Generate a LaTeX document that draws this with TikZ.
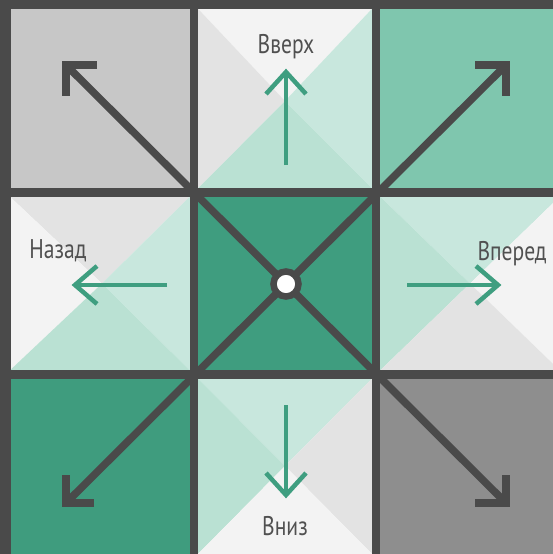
\documentclass[tikz,border=0pt]{standalone}
\usepackage{fontspec}
\setmainfont{PT Sans}
\newfontfamily\labfont[FakeStretch=0.8]{PT Sans}
\definecolor{gridc}{HTML}{4A4A4A}
\definecolor{cTL}{HTML}{C7C7C7}
\definecolor{cTR}{HTML}{7FC6AE}
\definecolor{cBL}{HTML}{3F9C7E}
\definecolor{cBR}{HTML}{8E8E8E}
\definecolor{cC}{HTML}{3F9D7F}
\definecolor{wht}{HTML}{F3F3F3}
\definecolor{lgr}{HTML}{E3E3E3}
\definecolor{mintA}{HTML}{C8E7DD}
\definecolor{mintB}{HTML}{BAE1D3}
\definecolor{garrow}{HTML}{3F9E80}
\definecolor{txt}{HTML}{505050}
\begin{document}
\begin{tikzpicture}[x=1pt,y=-1pt,
  gline/.style={fill=gridc},
  darkarrow/.style={draw=gridc,line width=7.5pt,line join=miter,line cap=butt},
  greenarrow/.style={draw=garrow,line width=4.5pt,line join=miter,line cap=butt},
  lbl/.style={text=txt,font=\labfont\fontsize{27}{27}\selectfont,inner sep=0pt,anchor=base}]
\useasboundingbox (0,0) rectangle (553,554);
% corner cells
\fill[cTL] (0,0) rectangle (194,192.5);
\fill[cTR] (376,0) rectangle (553,192.5);
\fill[cBL] (0,374.5) rectangle (194,554);
\fill[cBR] (376,374.5) rectangle (553,554);
\fill[cC] (194,192.5) rectangle (376,374.5);
% top middle cell
\coordinate (tm) at (285,101);
\fill[wht] (194,4.5) -- (376,4.5) -- (tm) -- cycle;
\fill[lgr] (194,4.5) -- (194,192.5) -- (tm) -- cycle;
\fill[mintA] (376,4.5) -- (376,192.5) -- (tm) -- cycle;
\fill[mintB] (194,192.5) -- (376,192.5) -- (tm) -- cycle;
% left middle cell
\coordinate (lm) at (102,283.5);
\fill[lgr] (5.5,192.5) -- (194,192.5) -- (lm) -- cycle;
\fill[wht] (5.5,192.5) -- (5.5,374.5) -- (lm) -- cycle;
\fill[mintA] (194,192.5) -- (194,374.5) -- (lm) -- cycle;
\fill[mintB] (5.5,374.5) -- (194,374.5) -- (lm) -- cycle;
% right middle cell
\coordinate (rm) at (470,283.5);
\fill[mintA] (376,192.5) -- (564,192.5) -- (rm) -- cycle;
\fill[mintB] (376,192.5) -- (376,374.5) -- (rm) -- cycle;
\fill[wht] (564,192.5) -- (564,374.5) -- (rm) -- cycle;
\fill[lgr] (376,374.5) -- (564,374.5) -- (rm) -- cycle;
% bottom middle cell
\coordinate (bm) at (285,466);
\fill[mintA] (194,374.5) -- (376,374.5) -- (bm) -- cycle;
\fill[mintB] (194,374.5) -- (194,558) -- (bm) -- cycle;
\fill[lgr] (376,374.5) -- (376,558) -- (bm) -- cycle;
\fill[wht] (194,558) -- (376,558) -- (bm) -- cycle;
% grid lines
\fill[gline] (0,0) rectangle (11,554);
\fill[gline] (0,0) rectangle (553,9);
\fill[gline] (190,0) rectangle (198,554);
\fill[gline] (372,0) rectangle (380,554);
\fill[gline] (0,188) rectangle (553,197);
\fill[gline] (0,370) rectangle (553,379);
% diagonal dark arrows
\coordinate (ctr) at (286,284);
\coordinate (tl) at (66,65);
\coordinate (tr) at (506,65);
\coordinate (bl) at (66,503);
\coordinate (br) at (506,503);
\draw[darkarrow] (ctr) -- (tl);
\draw[darkarrow] (ctr) -- (tr);
\draw[darkarrow] (ctr) -- (bl);
\draw[darkarrow] (ctr) -- (br);
\draw[darkarrow] ([xshift=31pt]tl) -- (tl) -- ([yshift=-31pt]tl);
\draw[darkarrow] ([xshift=-31pt]tr) -- (tr) -- ([yshift=-31pt]tr);
\draw[darkarrow] ([xshift=28pt]bl) -- (bl) -- ([yshift=28pt]bl);
\draw[darkarrow] ([xshift=-31pt]br) -- (br) -- ([yshift=28pt]br);
% center circle
\node[circle,fill=white,draw=gridc,line width=6.5pt,minimum size=25pt,inner sep=0pt] (hub) at (ctr) {};
% green arrows
\coordinate (upT) at (286,165); \coordinate (upH) at (286,72);
\coordinate (lfT) at (167,285); \coordinate (lfH) at (75,285);
\coordinate (rtT) at (407,285); \coordinate (rtH) at (498,285);
\coordinate (dnT) at (286,405); \coordinate (dnH) at (286,495);
\draw[greenarrow] (upT) -- (upH);
\draw[greenarrow] ([shift={(-20,22)}]upH) -- (upH) -- ([shift={(20,22)}]upH);
\draw[greenarrow] (lfT) -- (lfH);
\draw[greenarrow] ([shift={(22,-19)}]lfH) -- (lfH) -- ([shift={(22,19)}]lfH);
\draw[greenarrow] (rtT) -- (rtH);
\draw[greenarrow] ([shift={(-22,-19)}]rtH) -- (rtH) -- ([shift={(-22,19)}]rtH);
\draw[greenarrow] (dnT) -- (dnH);
\draw[greenarrow] ([shift={(-20,-22)}]dnH) -- (dnH) -- ([shift={(20,-22)}]dnH);
% labels
\node[lbl] (up) at (286,53) {Вверх};
\node[lbl] (back) at (58,258) {Назад};
\node[lbl] (fwd) at (512,260) {Вперед};
\node[lbl] (down) at (285,535) {Вниз};
\end{tikzpicture}
\end{document}
